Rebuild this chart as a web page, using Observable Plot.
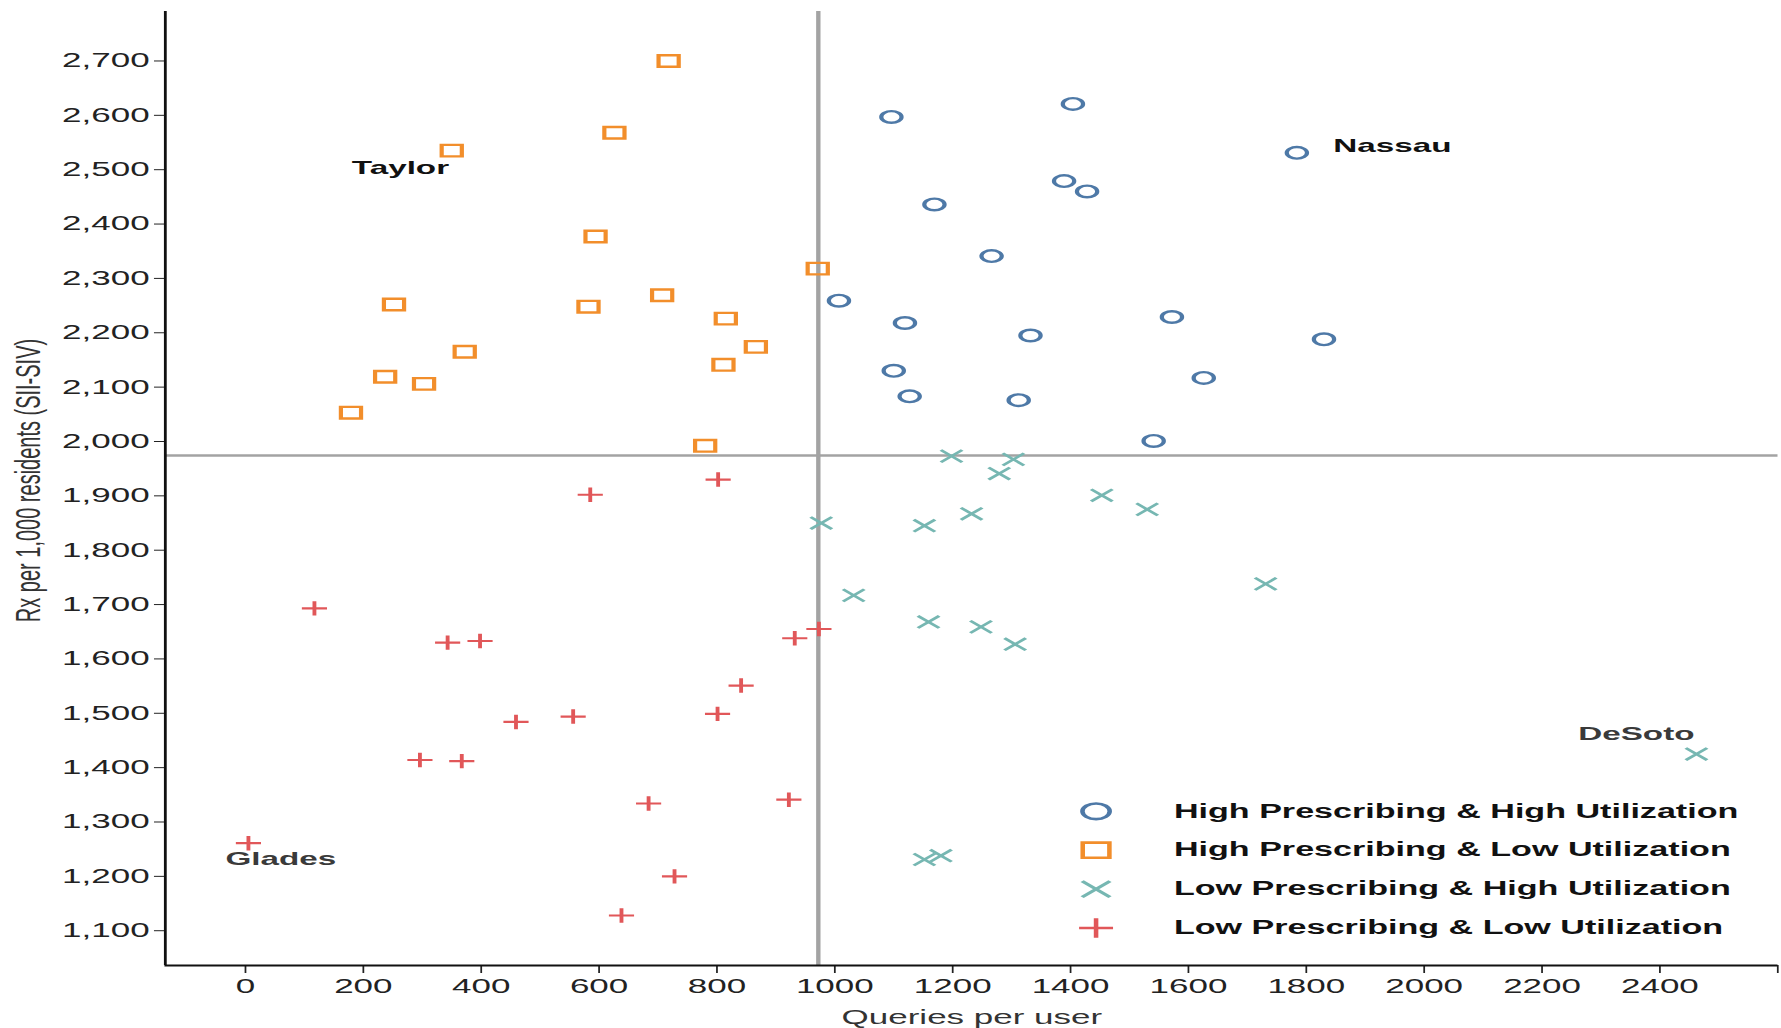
<!DOCTYPE html>
<html>
<head>
<meta charset="utf-8">
<script src="https://cdn.jsdelivr.net/npm/d3@7"></script>
<script src="https://cdn.jsdelivr.net/npm/@observablehq/plot@0.6"></script>
<style>
  html, body { margin: 0; padding: 0; background: #fff; overflow: hidden; }
  #chart svg { display: block; }
</style>
</head>
<body>
<div id="chart"></div>
<script>
// ---------- data ----------
const categories = [
  "High Prescribing & High Utilization",
  "High Prescribing & Low Utilization",
  "Low Prescribing & High Utilization",
  "Low Prescribing & Low Utilization"
];

// High Prescribing & High Utilization
const hhQueries = [1096, 1404, 1784, 1389, 1428, 1169, 1266, 1007, 1119, 1332, 1572, 1830, 1100, 1626, 1127, 1312, 1541];
const hhRx      = [2597, 2621, 2531, 2479, 2460, 2436, 2341, 2259, 2218, 2195, 2229, 2188, 2130, 2117, 2083, 2076, 2001];

// High Prescribing & Low Utilization
const hlQueries = [718, 626, 350, 594, 971, 252, 582, 707, 815, 372, 866, 237, 303, 811, 179, 780];
const hlRx      = [2700, 2568, 2535, 2377, 2318, 2252, 2248, 2269, 2226, 2165, 2174, 2119, 2106, 2141, 2053, 1992];

// Low Prescribing & High Utilization
const lhQueries = [1198, 1303, 1279, 1453, 1530, 977, 1152, 1232, 1731, 1032, 1159, 1248, 1306, 2462, 1152, 1180];
const lhRx      = [1973, 1967, 1941, 1901, 1875, 1850, 1845, 1867, 1738, 1717, 1668, 1659, 1627, 1425, 1231, 1238];

// Low Prescribing & Low Utilization
const llQueries = [585, 802, 117, 343, 398, 932, 973, 841, 801, 459, 556, 296, 367, 684, 922, 5, 728, 638];
const llRx      = [1902, 1930, 1693, 1630, 1633, 1638, 1655, 1551, 1499, 1484, 1494, 1414, 1412, 1334, 1341, 1261, 1200, 1128];

// county annotations (label anchor in data space)
const labelNames   = ["Taylor", "Nassau", "Glades", "DeSoto"];
const labelQueries = [263, 1946, 60, 2360];
const labelRx      = [2503, 2544, 1232, 1462];

// reference (average) lines
const refQueries = 972;
const refRx = 1974;

// axes
const xDomain = [-136, 2601];
const yDomain = [1036, 2791];
const xTicks = [0, 200, 400, 600, 800, 1000, 1200, 1400, 1600, 1800, 2000, 2200, 2400, 2600];
const xTickLabels = ["0", "200", "400", "600", "800", "1000", "1200", "1400", "1600", "1800", "2000", "2200", "2400", ""];
const yTicks = [1100, 1200, 1300, 1400, 1500, 1600, 1700, 1800, 1900, 2000, 2100, 2200, 2300, 2400, 2500, 2600, 2700];
const xTitle = "Queries per user";
const yTitle = "Rx per 1,000 residents (SII-SIV)";

// ---------- styles ----------
const seriesData = [[hhQueries, hhRx], [hlQueries, hlRx], [lhQueries, lhRx], [llQueries, llRx]];
const symbols = ["circle", "square", "times", "plus"];
const colors  = ["#4e79a7", "#f28e2b", "#76b7b2", "#e15759"];
const radii   = [5.8, 6.5, 5.6, 4.7];
const legendRadii = [7.8, 8.6, 7.3, 6.3];
const strokeWidths = [2.4, 2.4, 2.2, 2.2];
const labelColors = ["#111", "#111", "#3a3a3a", "#3a3a3a"];

const W = 1018, H = 1028, OUT_W = 1781;

const pointMarks = seriesData.map(([xs, ys], k) =>
  Plot.dot(xs.map((x, i) => ({q: x, rx: ys[i]})), {
    x: "q", y: "rx",
    symbol: symbols[k], r: radii[k],
    stroke: colors[k], strokeWidth: strokeWidths[k], fill: "none"
  })
);

const legendMarks = categories.flatMap((c, k) => [
  Plot.dot([c], {
    frameAnchor: "bottom-left", dx: 532, dy: -154.2 + k * 38.9,
    symbol: symbols[k], r: legendRadii[k],
    stroke: colors[k], strokeWidth: 2.6, fill: "none"
  }),
  Plot.text([c], {
    frameAnchor: "bottom-left", dx: 576.5, dy: -154.2 + k * 38.9,
    text: d => d, textAnchor: "start", lineAnchor: "middle",
    fontWeight: "bold", fontSize: 19.5, fill: "#111"
  })
]);

const annotations = labelNames.map((n, i) => ({name: n, q: labelQueries[i], rx: labelRx[i], c: labelColors[i]}));

const chart = Plot.plot({
  width: W,
  height: H,
  marginLeft: 94,
  marginRight: 2,
  marginTop: 11,
  marginBottom: 63,
  style: {
    fontFamily: "'Liberation Sans', Arial, sans-serif",
    fontSize: "20px",
    color: "#222",
    background: "#fff",
    overflow: "visible"
  },
  x: {
    domain: xDomain,
    ticks: xTicks,
    tickFormat: d => xTickLabels[xTicks.indexOf(d)],
    tickSize: 8,
    tickPadding: 5,
    label: null
  },
  y: {
    domain: yDomain,
    ticks: yTicks,
    tickFormat: d3.format(","),
    tickSize: 6,
    tickPadding: 3,
    label: null
  },
  marks: [
    Plot.ruleX([refQueries], {stroke: "#a3a3a3", strokeWidth: 2.5}),
    Plot.ruleY([refRx], {stroke: "#a3a3a3", strokeWidth: 2.5}),
    Plot.ruleX([xDomain[0]], {stroke: "#111", strokeWidth: 1.6}),
    Plot.ruleY([yDomain[0]], {stroke: "#111", strokeWidth: 2}),
    ...pointMarks,
    Plot.text(annotations, {
      x: "q", y: "rx", text: "name", fill: "c",
      fontWeight: "bold", fontSize: 19, textAnchor: "middle", lineAnchor: "middle"
    }),
    ...legendMarks,
    Plot.text([xTitle], {
      frameAnchor: "bottom", dy: 52, text: d => d,
      textAnchor: "middle", lineAnchor: "middle", fontSize: 20, fill: "#333"
    }),
    Plot.text([yTitle], {
      frameAnchor: "left", dx: -78, dy: -8, rotate: -90, text: d => d,
      textAnchor: "middle", lineAnchor: "middle", fontSize: 20, fill: "#333"
    })
  ]
});

// horizontal stretch of the whole drawing, as in the reference image
chart.setAttribute("viewBox", `0 0 ${W} ${H}`);
chart.setAttribute("preserveAspectRatio", "none");
chart.setAttribute("width", OUT_W);
chart.setAttribute("height", H);
chart.style.width = OUT_W + "px";
chart.style.height = H + "px";
chart.style.maxWidth = "none";

document.getElementById("chart").appendChild(chart);
</script>
</body>
</html>
